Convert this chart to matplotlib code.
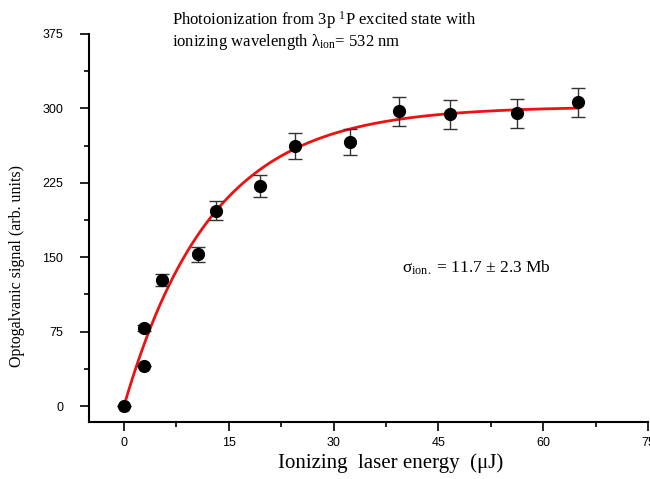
import numpy as np
import matplotlib
matplotlib.use("Agg")
import matplotlib.pyplot as plt
from matplotlib.ticker import AutoMinorLocator

# 测量数据：电离激光能量 (μJ)、光电流信号及误差
energy = [0.0, 2.9, 2.9, 5.4, 10.6, 13.2, 19.5, 24.5, 32.4, 39.3, 46.7, 56.2, 65.0]
signal = [0, 40, 79, 127, 153, 197, 222, 262, 266, 297, 294, 295, 306]
signal_err = [0, 0, 3, 6, 7.5, 9.5, 11, 13, 13, 14.7, 14.7, 14.7, 14.8]

# 饱和拟合参数 S = A (1 - exp(-E/E0))
fit_amp = 302.0
fit_e0 = 12.5

x_ticks = [0, 15, 30, 45, 60, 75]
y_ticks = [0, 75, 150, 225, 300, 375]

serif = "Liberation Serif"
sans = "Liberation Sans"
plt.rcParams["mathtext.fontset"] = "custom"
plt.rcParams["mathtext.rm"] = serif
plt.rcParams["mathtext.it"] = serif + ":italic"
plt.rcParams["mathtext.bf"] = serif + ":bold"

W, H = 650, 479
fig = plt.figure(figsize=(W / 100, H / 100), dpi=100)
ax = fig.add_axes([89 / W, 1 - 422 / H, (648 - 89) / W, (422 - 34) / H])

# 拟合曲线
e_fit = np.linspace(0, max(energy), 300)
s_fit = fit_amp * (1 - np.exp(-e_fit / fit_e0))
ax.plot(e_fit, s_fit, color="#ee1111", linewidth=2, zorder=2)

# 数据点与误差棒
ax.errorbar(
    energy, signal, yerr=signal_err,
    fmt="o", color="black", markersize=8.5,
    ecolor="#333333", elinewidth=1, capsize=5, capthick=1,
    zorder=3
)

ax.set_xlim(-5, 75)
ax.set_ylim(-16, 375)
ax.set_xticks(x_ticks)
ax.set_yticks(y_ticks)
ax.xaxis.set_minor_locator(AutoMinorLocator(2))
ax.yaxis.set_minor_locator(AutoMinorLocator(2))

for side in ["top", "right"]:
    ax.spines[side].set_visible(False)
for side in ["left", "bottom"]:
    ax.spines[side].set_linewidth(1.5)

ax.tick_params(which="major", direction="out", length=6.5, width=1.2, labelsize=9)
ax.tick_params(which="minor", direction="out", length=3.5, width=1.2)
ax.tick_params(axis="x", which="major", pad=4)
ax.tick_params(axis="y", which="major", pad=12)
for lab in ax.get_xticklabels() + ax.get_yticklabels():
    lab.set_fontfamily(sans)

# 坐标轴标题
fig.text(391 / W, 1 - 468 / H, "Ionizing  laser energy  (μJ)",
         fontfamily=serif, fontsize=15, ha="center", va="baseline")
fig.text(17 / W, 1 - 266 / H, "Optogalvanic signal (arb. units)",
         fontfamily=serif, fontsize=11.5, ha="center", va="center", rotation=90)

fig.text(172 / W, 1 - 25 / H, r"Photoionization from 3p $\mathrm{^{1}}$P excited state with",
         fontfamily=serif, fontsize=12, va="baseline", ha="left")
fig.text(172 / W, 1 - 46 / H, r"ionizing wavelength $\mathrm{λ_{ion}}$= 532 nm",
         fontfamily=serif, fontsize=12, va="baseline", ha="left")

ax.text(39.8, 139, r"$\mathrm{σ_{ion.}}$ = 11.7 ± 2.3 Mb",
        fontfamily=serif, fontsize=12.5, va="center", ha="left")

fig.savefig("out.png", dpi=100)
